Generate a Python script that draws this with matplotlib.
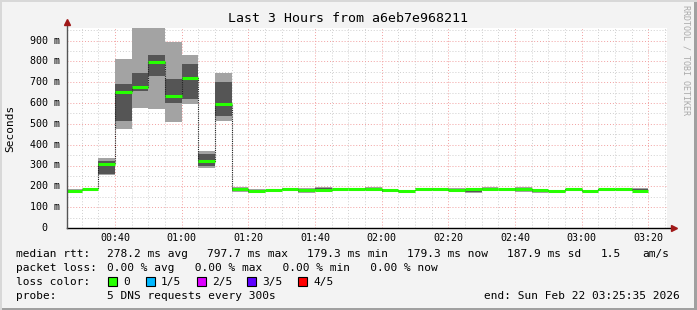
import matplotlib
matplotlib.use("Agg")
import matplotlib.pyplot as plt
from matplotlib.patches import Rectangle
import numpy as np

plt.rcParams["font.family"] = "DejaVu Sans Mono"

# 5-minute intervals, start minute after midnight (00:25 ... 03:15)
starts = list(range(25, 200, 5))

# sorted pings per interval (ms)
p1 = [171, 184, 255, 474, 574, 569, 507, 595, 289, 513, 175, 169, 180, 184, 169, 182, 186, 186,
      186, 172, 178, 186, 186, 176, 170, 183, 185, 171, 170, 178, 183, 178, 180, 183, 178]
p2 = [175, 185, 258, 512, 657, 732, 600, 617, 298, 536, 178, 174, 181, 186, 175, 183, 187, 187,
      187, 175, 179, 187, 187, 178, 173, 184, 186, 176, 173, 179, 184, 179, 183, 185, 179]
median = [179.5, 187, 306, 652, 679, 797.7, 632, 722, 322, 597, 186, 180, 182, 188, 183, 184, 188, 188,
          188, 184, 180, 188, 188, 183, 185, 185, 187, 186, 184, 180, 185, 180, 185, 186, 179.3]
p4 = [182, 188, 320, 689, 742, 829, 713, 785, 354, 699, 192, 184, 183, 189, 188, 190, 189, 189,
      191, 185, 181, 189, 189, 188, 186, 190, 188, 193, 185, 181, 186, 181, 186, 187, 188]
p5 = [185, 189, 336, 809, 990, 1000, 891, 829, 368, 746, 198, 187, 184, 190, 192, 198, 190, 190,
      195, 186, 182, 190, 190, 194, 187, 195, 189, 198, 186, 182, 187, 182, 187, 188, 191]

xticks = [40, 60, 80, 100, 120, 140, 160, 180, 200]
xlabels = ["00:40", "01:00", "01:20", "01:40", "02:00", "02:20", "02:40", "03:00", "03:20"]
yticks = [0, 100, 200, 300, 400, 500, 600, 700, 800, 900]
ylabels = ["0", "100 m", "200 m", "300 m", "400 m", "500 m", "600 m", "700 m", "800 m", "900 m"]

loss_labels = ["0", "1/5", "2/5", "3/5", "4/5"]
loss_colors = ["#26ff00", "#00b8ff", "#dd00ff", "#5e00ff", "#ff0000"]

W, H = 697, 310
BG = "#f3f3f3"


def px(x, y):
    return x / W, 1 - y / H


fig = plt.figure(figsize=(W / 100, H / 100), dpi=100, facecolor=BG)
ax = fig.add_axes([67 / W, 82 / H, 600 / W, 200 / H])
ax.set_facecolor("white")

s = np.array(starts, dtype=float)
a1, a2, a3, a4, a5 = (np.array(v, dtype=float) for v in (p1, p2, median, p4, p5))

# smoke
ax.bar(s, a2 - a1, bottom=a1, width=5, align="edge", color="#a3a3a3", linewidth=0, zorder=3)
ax.bar(s, a4 - a2, bottom=a2, width=5, align="edge", color="#555555", linewidth=0, zorder=3)
ax.bar(s, a5 - a4, bottom=a4, width=5, align="edge", color="#a3a3a3", linewidth=0, zorder=3)

# median
edges = np.append(s, s[-1] + 5)
ax.step(edges, np.append(a3, a3[-1]), where="post", color="#222222", lw=0.8,
        linestyle=(0, (1, 1)), zorder=4)
ax.hlines(a3, s, s + 5, color=loss_colors[0], lw=2.2, zorder=5)

ax.set_xlim(25 + 35 / 60, 205 + 35 / 60)
ax.set_ylim(0, 960)

# grid
for x in np.arange(30, 206, 5):
    major = x % 20 == 0
    ax.axvline(x, color="#f2a0a0" if major else "#cfcfcf", lw=0.7,
               linestyle=(0, (1, 2)), zorder=1)
for y in np.arange(50, 960, 50):
    major = y % 100 == 0
    ax.axhline(y, color="#f2a0a0" if major else "#cfcfcf", lw=0.7,
               linestyle=(0, (1, 2)), zorder=1)

for sp in ax.spines.values():
    sp.set_visible(False)
ax.set_xticks([])
ax.set_yticks([])

# axes with arrows
ax.plot([0, 1.01], [0, 0], transform=ax.transAxes, color="black", lw=1, clip_on=False, zorder=6)
ax.plot([0, 0], [0, 1.03], transform=ax.transAxes, color="#555555", lw=1, clip_on=False, zorder=6)
ax.plot([1.012], [0], transform=ax.transAxes, marker=">", ms=5, color="#a01818",
        clip_on=False, zorder=7)
ax.plot([0], [1.03], transform=ax.transAxes, marker="^", ms=5, color="#a01818",
        clip_on=False, zorder=7)

# tick labels
for x, lab in zip(xticks, xlabels):
    ax.annotate(lab, xy=(x, 0), xycoords=("data", "axes fraction"), xytext=(0, -10),
                textcoords="offset pixels", ha="center", va="center", fontsize=7.2)
for y, lab in zip(yticks, ylabels):
    off = -20 if lab == "0" else -7
    ax.annotate(lab, xy=(0, y), xycoords=("axes fraction", "data"), xytext=(off, 0),
                textcoords="offset pixels", ha="right", va="center", fontsize=7.2)

fig.text(*px(348, 19), "Last 3 Hours from a6eb7e968211", ha="center", va="center", fontsize=9.5)
fig.text(*px(10, 128), "Seconds", rotation=90, ha="center", va="center", fontsize=8)
fig.text(*px(686, 60), "RRDTOOL / TOBI OETIKER", rotation=270, ha="center", va="center",
         fontsize=6, color="#aaaaaa")

# legend block
fs = 8
fig.text(*px(16, 254), "median rtt:", va="center", fontsize=fs)
for x, t in [(107, "278.2 ms avg"), (207, "797.7 ms max"), (307, "179.3 ms min"),
             (407, "179.3 ms now"), (507, "187.9 ms sd"), (601, "1.5"), (642, "am/s")]:
    fig.text(*px(x, 254), t, va="center", fontsize=fs)
fig.text(*px(16, 268), "packet loss:", va="center", fontsize=fs)
fig.text(*px(107, 268), "0.00 % avg   0.00 % max   0.00 % min   0.00 % now", va="center", fontsize=fs)
fig.text(*px(16, 282), "loss color:", va="center", fontsize=fs)
for bx, col, lab in zip([108, 146, 197, 247, 298], loss_colors, loss_labels):
    fig.add_artist(Rectangle(px(bx, 286), 9 / W, 9 / H, transform=fig.transFigure,
                             facecolor=col, edgecolor="black", lw=0.8))
    fig.text(*px(bx + 15, 282), lab, va="center", fontsize=fs)
fig.text(*px(16, 296), "probe:", va="center", fontsize=fs)
fig.text(*px(107, 296), "5 DNS requests every 300s", va="center", fontsize=fs)
fig.text(*px(680, 296), "end: Sun Feb 22 03:25:35 2026", ha="right", va="center", fontsize=fs)

# frame
fig.add_artist(Rectangle((0, 0), 1, 2 / H, transform=fig.transFigure, color="#a0a0a0", lw=0))
fig.add_artist(Rectangle((1 - 3 / W, 0), 3 / W, 1, transform=fig.transFigure, color="#a0a0a0", lw=0))
fig.add_artist(Rectangle((0, 1 - 2 / H), 1, 2 / H, transform=fig.transFigure, color="#d8d8d8", lw=0))
fig.add_artist(Rectangle((0, 0), 2 / W, 1, transform=fig.transFigure, color="#d8d8d8", lw=0))

fig.savefig("out.png", dpi=100, facecolor=BG)
